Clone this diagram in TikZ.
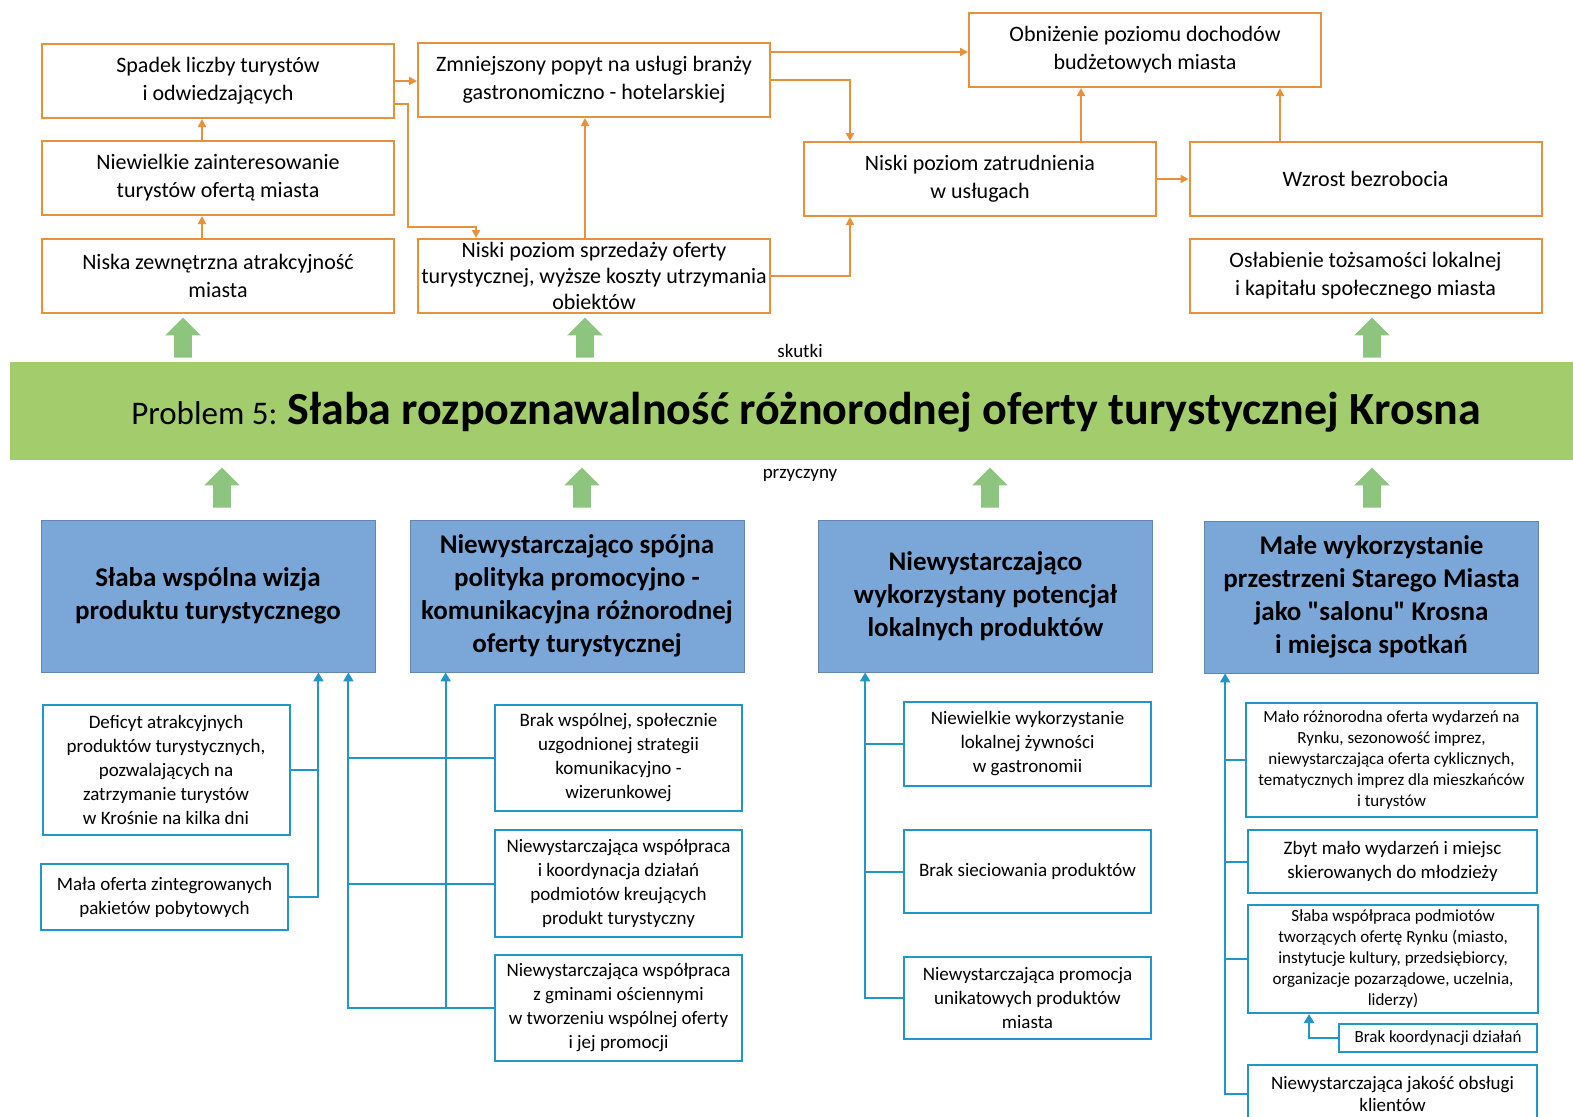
\documentclass[tikz,border=0pt]{standalone}
\usepackage{fontspec}
\setmainfont{Carlito}
\newfontfamily\straightq{Carlito}[Ligatures=ResetAll]
\usetikzlibrary{arrows.meta,shapes.arrows}
\definecolor{effectorange}{HTML}{E8913C}
\definecolor{causeblue}{HTML}{7BA7D8}
\definecolor{linkblue}{HTML}{2196C8}
\definecolor{bandgreen}{HTML}{A3CD6C}
\definecolor{arrowgreen}{HTML}{8DC47E}
\begin{document}
\begin{tikzpicture}[x=0.5pt, y=-0.5pt,
	effect/.style={draw=effectorange, line width=1pt, minimum width=176pt, minimum height=37pt, inner sep=0pt, align=center, font=\fontsize{11}{14}\selectfont},
	cause/.style={fill=causeblue, draw=causeblue!80!black, line width=0.4pt, minimum width=167pt, minimum height=76pt, inner sep=0pt, align=center, font=\fontsize{13.5}{16.5}\selectfont\bfseries},
	subcause/.style={draw=linkblue, line width=1pt, minimum width=123.5pt, inner sep=0pt, align=center, font=\fontsize{9.5}{12}\selectfont},
	dense/.style={font=\fontsize{8.5}{10.5}\selectfont},
	olink/.style={effectorange, line width=1pt, -{Triangle[length=4pt,width=4pt]}},
	blink/.style={linkblue, line width=1pt},
	barrow/.style={blink, -{Triangle[length=4.5pt,width=5pt]}},
	upgreen/.style={single arrow, fill=arrowgreen, draw=none, shape border rotate=90, minimum width=17.5pt, minimum height=20pt, single arrow head extend=4.5pt, inner sep=4.25pt}]

	\useasboundingbox (0,0) rectangle (1573,1116);

	% skutki
	\node[effect] (A1) at (218,81) {Spadek liczby turystów\\i odwiedzających};
	\node[effect] (A2) at (218,178) {Niewielkie zainteresowanie\\turystów ofertą miasta};
	\node[effect] (A3) at (218,276) {Niska zewnętrzna atrakcyjność\\miasta};
	\node[effect] (B1) at (594,80) {Zmniejszony popyt na usługi branży\\gastronomiczno - hotelarskiej};
	\node[effect, font=\fontsize{11}{12.8}\selectfont] (B2) at (594,276) {Niski poziom sprzedaży oferty\\turystycznej, wyższe koszty utrzymania\\obiektów};
	\node[effect] (C1) at (1145,50) {Obniżenie poziomu dochodów\\budżetowych miasta};
	\node[effect] (D1) at (980,179) {Niski poziom zatrudnienia\\w usługach};
	\node[effect] (D2) at (1365.5,179) {Wzrost bezrobocia};
	\node[effect] (D3) at (1365.5,276) {Osłabienie tożsamości lokalnej\\i kapitału społecznego miasta};

	\draw[olink] ([xshift=-8pt]A3.north) -- ([xshift=-8pt]A2.south);
	\draw[olink] ([xshift=-8pt]A2.north) -- ([xshift=-8pt]A1.south);
	\draw[olink] (A1.east) -- (A1.east -| B1.west);
	\draw[olink] ([yshift=-11.5pt]A1.east) -- ++(13,0) |- ([xshift=29.5pt,yshift=5.5pt]B2.north west) -- ([xshift=29.5pt]B2.north west);
	\draw[olink] ([xshift=-4.5pt]B2.north) -- ([xshift=-4.5pt]B1.south);
	\draw[olink] ([yshift=14pt]B1.east) -- ([yshift=14pt]B1.east -| C1.west);
	\draw[olink] (B1.east) -| ([xshift=23.5pt]D1.north west);
	\draw[olink] (B2.east) -| ([xshift=23.5pt]D1.south west);
	\draw[olink] ([xshift=50.5pt]D1.north) -- ([xshift=50.5pt]D1.north |- C1.south);
	\draw[olink] ([xshift=-42.75pt]D2.north) -- ([xshift=-42.75pt]D2.north |- C1.south);
	\draw[olink] (D1.east) -- (D2.west);

	% problem
	\node[fill=bandgreen, minimum width=781.5pt, minimum height=49pt, inner sep=0pt] (band) at (791.5,411) {};
	\node[inner sep=0pt] (title) at (806,412) {{\fontsize{16.5}{19}\selectfont Problem 5: }{\fontsize{23}{27}\selectfont\bfseries Słaba rozpoznawalność różnorodnej oferty turystycznej Krosna}};
	\node[font=\fontsize{9.5}{12}\selectfont] (skutki) at (800,351) {skutki};
	\node[font=\fontsize{9.5}{12}\selectfont] (przyczyny) at (800,475) {przyczyny};

	\node[upgreen] (upA) at (183,342) {};
	\node[upgreen] (upB) at (585,342) {};
	\node[upgreen] (upC) at (1372,342) {};
	\node[upgreen] (upD) at (222,492) {};
	\node[upgreen] (upE) at (582,492) {};
	\node[upgreen] (upF) at (990,492) {};
	\node[upgreen] (upG) at (1372,492) {};

	% przyczyny
	\node[cause] (E1) at (208,596) {Słaba wspólna wizja\\produktu turystycznego};
	\node[cause] (E2) at (577,596) {Niewystarczająco spójna\\polityka promocyjno -\\komunikacyjna różnorodnej\\oferty turystycznej};
	\node[cause] (E3) at (985.5,596) {Niewystarczająco\\wykorzystany potencjał\\lokalnych produktów};
	\node[cause] (E4) at (1371.5,597) {Małe wykorzystanie\\przestrzeni Starego Miasta\\jako {\straightq"}salonu{\straightq"} Krosna\\i miejsca spotkań};

	\node[subcause, minimum height=65pt] (F1) at (166,770) {Deficyt atrakcyjnych\\produktów turystycznych,\\pozwalających na\\zatrzymanie turystów\\w Krośnie na kilka dni};
	\node[subcause, minimum height=33pt] (F2) at (164.5,897) {Mała oferta zintegrowanych\\pakietów pobytowych};

	\node[subcause, minimum height=53pt] (G1) at (618.5,758) {Brak wspólnej, społecznie\\uzgodnionej strategii\\komunikacyjno -\\wizerunkowej};
	\node[subcause, minimum height=53.5pt] (G2) at (618.5,883.5) {Niewystarczająca współpraca\\i koordynacja działań\\podmiotów kreujących\\produkt turystyczny};
	\node[subcause, minimum height=53pt] (G3) at (618.5,1008) {Niewystarczająca współpraca\\z gminami ościennymi\\w tworzeniu wspólnej oferty\\i jej promocji};

	\node[subcause, minimum height=42pt] (H1) at (1027.5,744) {Niewielkie wykorzystanie\\lokalnej żywności\\w gastronomii};
	\node[subcause, minimum height=41.5pt] (H2) at (1027.5,871.5) {Brak sieciowania produktów};
	\node[subcause, minimum height=41pt] (H3) at (1027.5,998) {Niewystarczająca promocja\\unikatowych produktów\\miasta};

	\node[subcause, dense, minimum width=145.5pt, minimum height=57pt] (I1) at (1391.5,760) {Mało różnorodna oferta wydarzeń na\\Rynku, sezonowość imprez,\\niewystarczająca oferta cyklicznych,\\tematycznych imprez dla mieszkańców\\i turystów};
	\node[subcause, minimum width=144.5pt, minimum height=31.5pt] (I2) at (1392.5,861.5) {Zbyt mało wydarzeń i miejsc\\skierowanych do młodzieży};
	\node[subcause, dense, minimum width=145pt, minimum height=54pt] (I3) at (1393,959) {Słaba współpraca podmiotów\\tworzących ofertę Rynku (miasto,\\instytucje kultury, przedsiębiorcy,\\organizacje pozarządowe, uczelnia,\\liderzy)};
	\node[subcause, dense, minimum width=99pt, minimum height=14pt] (I4) at (1438,1038) {Brak koordynacji działań};
	\node[subcause, font=\fontsize{9.5}{11}\selectfont, minimum width=144.5pt, minimum height=29pt] (I5) at (1392.5,1094) {Niewystarczająca jakość obsługi\\klientów};

	\draw[blink] (F1.east) -- (F1.east -| F2.east) -- ++(28,0);
	\draw[barrow] (F2.east) -| ([xshift=-28.5pt]E1.south east);
	\draw[barrow] (G3.west) -| ([xshift=-13.5pt]E1.south east);
	\draw[blink] (G1.west) -- ++(-147,0);
	\draw[blink] (G2.west) -- ++(-147,0);
	\draw[barrow] ([xshift=18pt]E2.south west |- G3.west) -- ([xshift=18pt]E2.south west);
	\draw[barrow] (H3.west) -| ([xshift=23.5pt]E3.south west);
	\draw[blink] (H1.west) -- ++(-38,0);
	\draw[blink] (H2.west) -- ++(-38,0);
	\draw[barrow] (I5.west) -| ([xshift=10.5pt]E4.south west);
	\draw[blink] (I1.west) -- ++(-20,0);
	\draw[blink] (I2.west) -- ++(-22,0);
	\draw[blink] (I3.west) -- ++(-22,0);
	\draw[barrow] (I4.west) -| ([xshift=31pt]I3.south west);
\end{tikzpicture}
\end{document}
